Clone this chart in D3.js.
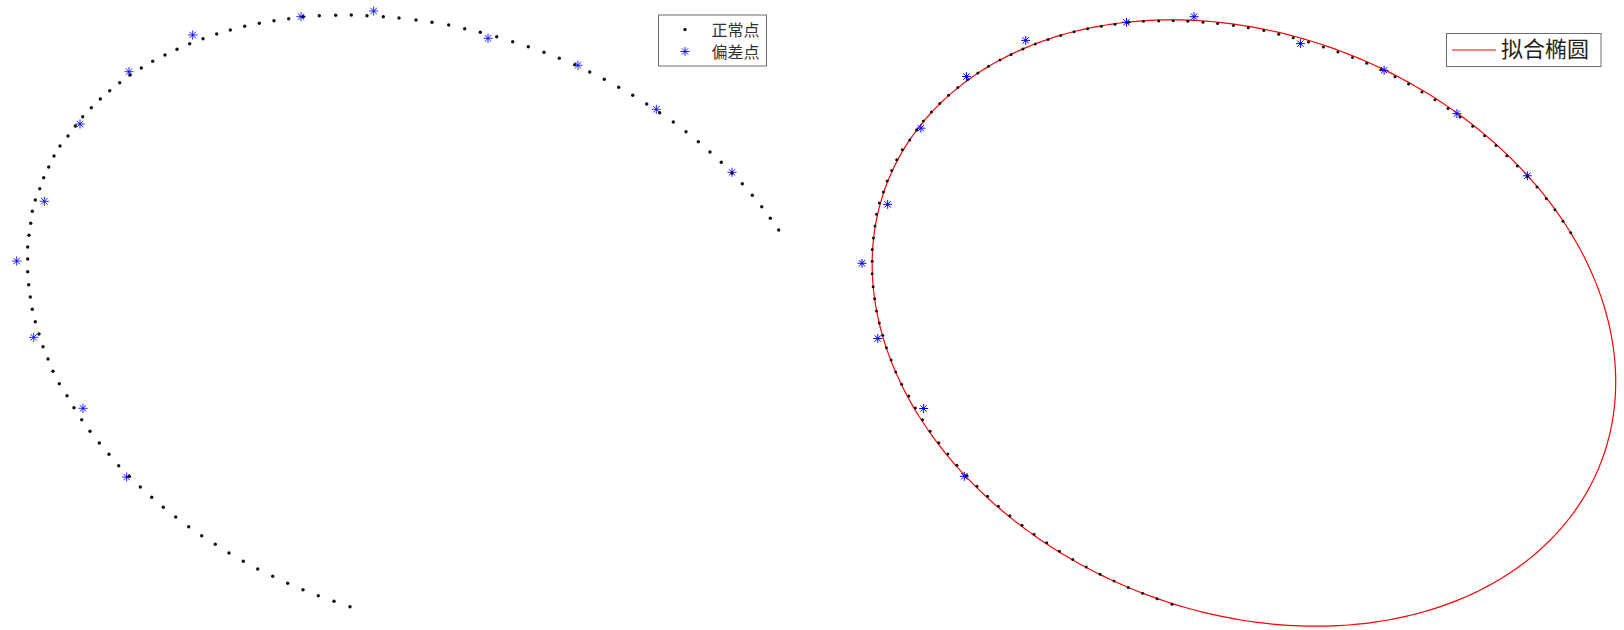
<!DOCTYPE html>
<html>
<head>
<meta charset="utf-8">
<script src="https://cdn.jsdelivr.net/npm/d3@7"></script>
<style>
  html, body { margin: 0; padding: 0; background: #fff; overflow: hidden; }
  svg { display: block; }
</style>
</head>
<body>
<svg id="chart" width="1624" height="630"></svg>
<script>
// Sampled edge points (x, y), ordered along the arc
const normalPoints = [
  [-5.00, -28.67], [-6.60, -28.13], [-8.17, -27.57], [-9.70, -26.97], [-11.23, -26.33],
  [-12.73, -25.63], [-14.23, -24.90], [-15.67, -24.13], [-17.10, -23.30], [-18.47, -22.43],
  [-19.83, -21.57], [-21.13, -20.67], [-22.43, -19.70], [-23.67, -18.73], [-24.83, -17.73],
  [-25.97, -16.70], [-27.07, -15.63], [-28.13, -14.57], [-29.10, -13.43], [-30.07, -12.30],
  [-31.00, -11.13], [-31.83, -9.97], [-32.60, -8.77], [-33.30, -7.57], [-34.07, -6.37],
  [-34.70, -5.13], [-35.20, -3.90], [-35.70, -2.67], [-36.10, -1.40], [-36.47, -0.17],
  [-36.77, 1.07], [-36.97, 2.30], [-37.13, 3.53], [-37.23, 4.83], [-37.23, 6.10],
  [-37.23, 7.30], [-37.10, 8.47], [-36.93, 9.67], [-36.77, 10.87], [-36.47, 12.00],
  [-36.03, 13.13], [-35.63, 14.23], [-35.13, 15.30], [-34.60, 16.40], [-34.00, 17.40],
  [-33.20, 18.40], [-32.47, 19.40], [-31.73, 20.33], [-30.87, 21.23], [-29.97, 22.10],
  [-29.03, 22.93], [-28.03, 23.73], [-27.00, 24.50], [-25.87, 25.20], [-24.73, 25.87],
  [-23.50, 26.50], [-22.30, 27.07], [-21.03, 27.63], [-19.70, 28.13], [-18.33, 28.60],
  [-16.97, 29.00], [-15.53, 29.37], [-14.07, 29.67], [-12.60, 29.93], [-11.13, 30.13],
  [-9.67, 30.33], [-8.07, 30.43], [-6.43, 30.47], [-4.87, 30.50], [-3.30, 30.43],
  [-1.67, 30.33], [-0.10, 30.20], [1.60, 30.00], [3.20, 29.77], [4.87, 29.50],
  [6.47, 29.13], [8.03, 28.77], [9.67, 28.33], [11.27, 27.83], [12.83, 27.33],
  [14.40, 26.77], [15.93, 26.17], [17.47, 25.53], [18.97, 24.80], [20.43, 24.07],
  [21.87, 23.27], [23.27, 22.47], [24.67, 21.60], [25.97, 20.73], [27.33, 19.80],
  [28.60, 18.83], [29.83, 17.83], [31.00, 16.80], [32.13, 15.77], [33.20, 14.70],
  [34.23, 13.63], [35.23, 12.47], [36.17, 11.33], [37.03, 10.17], [37.87, 9.00]
];

// Points with added deviation
const outlierPoints = [
  [-38.33, 5.90], [-36.63, -1.73], [-31.70, -8.83], [-27.33, -15.70],
  [-35.57, 11.87], [-32.00, 19.60], [-27.10, 24.83], [-20.73, 28.50],
  [-9.90, 30.33], [-2.63, 30.90], [8.80, 28.17], [17.80, 25.47],
  [25.63, 21.07], [33.20, 14.77]
];

// Fitted ellipse: centre, semi-axes (major, minor), rotation in degrees
const ellipseCenter = [2.73, -0.16];
const ellipseAxes = [40.93, 29.45];
const ellipseAngleDeg = -18.07;

const legendLeftLabels = ["正常点", "偏差点"];
const legendRightLabels = ["拟合椭圆"];

const svg = d3.select("#chart");
const FONT = "'Noto Sans CJK SC', 'Noto Sans', sans-serif";

// Plot boxes of the two panels (no visible axes)
const leftBox = { x0: 16.7, x1: 778.7, y0: 11, y1: 606.7 };
const rightBox = { x0: 862, x1: 1615.7, y0: 16.7, y1: 626.2 };

// Ellipse outline sampled from its parameters
const th = ellipseAngleDeg * Math.PI / 180;
const ellipsePath = d3.range(0, 361).map(i => {
  const t = i * Math.PI / 180;
  const u = ellipseAxes[0] * Math.cos(t), v = ellipseAxes[1] * Math.sin(t);
  return [ellipseCenter[0] + u * Math.cos(th) - v * Math.sin(th),
          ellipseCenter[1] + u * Math.sin(th) + v * Math.cos(th)];
});

const dataPts = normalPoints.concat(outlierPoints);

const xL = d3.scaleLinear().domain(d3.extent(dataPts, d => d[0])).range([leftBox.x0, leftBox.x1]);
const yL = d3.scaleLinear().domain(d3.extent(dataPts, d => d[1])).range([leftBox.y1, leftBox.y0]);

const rightPts = dataPts.concat(ellipsePath);
const xR = d3.scaleLinear().domain(d3.extent(rightPts, d => d[0])).range([rightBox.x0, rightBox.x1]);
const yR = d3.scaleLinear().domain(d3.extent(rightPts, d => d[1])).range([rightBox.y1, rightBox.y0]);

function asteriskPath(r) {
  const d = r * 0.7071;
  return `M${-r},0H${r}M0,${-r}V${r}M${-d},${-d}L${d},${d}M${-d},${d}L${d},${-d}`;
}

function drawPanel(g, x, y, opts) {
  g.append("g").selectAll("path")
    .data(outlierPoints).join("path")
    .attr("transform", d => `translate(${x(d[0])},${y(d[1])})`)
    .attr("d", asteriskPath(opts.starR))
    .attr("fill", "none")
    .attr("stroke", "#0000ff")
    .attr("stroke-opacity", opts.starOpacity)
    .attr("stroke-width", 1);

  g.append("g").selectAll("circle")
    .data(normalPoints).join("circle")
    .attr("cx", d => x(d[0]))
    .attr("cy", d => y(d[1]))
    .attr("r", opts.dotR)
    .attr("fill", "#111");
}

// ---- Left panel: raw points ----
const left = svg.append("g");
drawPanel(left, xL, yL, { starR: 4.6, starOpacity: 0.85, dotR: 1.7 });

// ---- Right panel: points and fitted ellipse ----
const right = svg.append("g");
right.append("path")
  .datum(ellipsePath)
  .attr("d", d3.line().x(d => xR(d[0])).y(d => yR(d[1])))
  .attr("fill", "none")
  .attr("stroke", "#ff0000")
  .attr("stroke-width", 1.2);
drawPanel(right, xR, yR, { starR: 4.5, starOpacity: 1, dotR: 1.5 });

// ---- Legends ----
const lgL = svg.append("g");
lgL.append("rect")
  .attr("x", 658.5).attr("y", 15).attr("width", 108).attr("height", 51)
  .attr("fill", "#fff").attr("stroke", "#6e6e6e").attr("stroke-width", 1);
lgL.append("circle").attr("cx", 685).attr("cy", 29.5).attr("r", 1.7).attr("fill", "#111");
lgL.append("path")
  .attr("transform", "translate(685,51.5)")
  .attr("d", asteriskPath(4.6))
  .attr("fill", "none").attr("stroke", "#0000ff").attr("stroke-opacity", 0.85).attr("stroke-width", 1);
lgL.selectAll("text").data(legendLeftLabels).join("text")
  .attr("x", 711.5)
  .attr("y", (d, i) => 31.5 + i * 22.5)
  .attr("dominant-baseline", "middle")
  .attr("font-family", FONT)
  .attr("font-size", 16)
  .attr("fill", "#333")
  .text(d => d);

const lgR = svg.append("g");
lgR.append("rect")
  .attr("x", 1446.5).attr("y", 33.5).attr("width", 154.5).attr("height", 33)
  .attr("fill", "#fff").attr("stroke", "#6e6e6e").attr("stroke-width", 1);
lgR.append("line")
  .attr("x1", 1452).attr("x2", 1496).attr("y1", 50).attr("y2", 50)
  .attr("stroke", "#ff0000").attr("stroke-width", 1.2);
lgR.selectAll("text").data(legendRightLabels).join("text")
  .attr("x", 1501)
  .attr("y", 51)
  .attr("dominant-baseline", "middle")
  .attr("font-family", FONT)
  .attr("font-size", 22)
  .attr("fill", "#222")
  .text(d => d);
</script>
</body>
</html>
